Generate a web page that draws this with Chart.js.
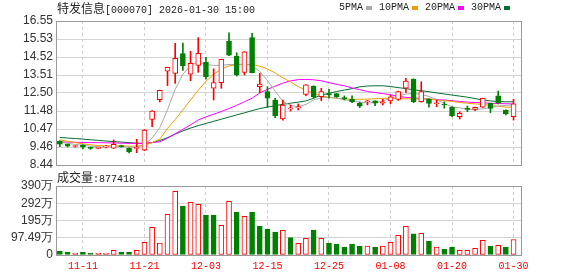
<!DOCTYPE html>
<html>
<head>
<meta charset="utf-8">
<script src="https://cdn.jsdelivr.net/npm/chart.js@4.4.1/dist/chart.umd.min.js"></script>
<style>
  body { margin: 0; background: #fff; }
  #wrap { position: relative; width: 578px; height: 276px; overflow: hidden; }
  canvas { position: absolute; left: 0; top: 0; }
  .mono { font-family: "Liberation Mono", monospace; font-size: 10px; color: #222; }
  .cn { font-family: "Noto Sans CJK SC", sans-serif; font-size: 12px; }
  #title { position: absolute; left: 57px; top: 1px; white-space: nowrap; line-height: 14px; }
  #legend { position: absolute; left: 339px; top: 2px; display: flex; align-items: center; line-height: 12px; }
  #legend i { display: inline-block; width: 6px; height: 4px; margin: 0 7px 0 3px; }
  #volLabel { position: absolute; left: 57px; top: 170px; white-space: nowrap; line-height: 14px; }
</style>
</head>
<body>
<div id="wrap">
  <canvas id="priceChart" width="578" height="276"></canvas>
  <canvas id="volChart" width="578" height="276"></canvas>
  <div id="title" class="mono"><span class="cn">特发信息</span>[000070] 2026-01-30 15:00</div>
  <div id="legend" class="mono">
    <span>5PMA</span><i style="background:#a8a8a8"></i>
    <span>10PMA</span><i style="background:#f0a000"></i>
    <span>20PMA</span><i style="background:#ff00ff"></i>
    <span>30PMA</span><i style="background:#006e32"></i>
  </div>
  <div id="volLabel" class="mono"><span class="cn">成交量</span>:877418</div>
</div>
<script>
// trading days shown on the chart
const dates = ["11-06","11-07","11-10","11-11","11-12","11-13","11-14","11-17","11-18","11-19",
  "11-20","11-21","11-24","11-25","11-26","11-27","11-28","12-01","12-02","12-03",
  "12-04","12-05","12-08","12-09","12-10","12-11","12-12","12-15","12-16","12-17",
  "12-18","12-19","12-22","12-23","12-24","12-25","12-26","12-29","12-30","12-31",
  "01-05","01-06","01-07","01-08","01-09","01-12","01-13","01-14","01-15","01-16",
  "01-19","01-20","01-21","01-22","01-23","01-26","01-27","01-28","01-29","01-30"];
const dateTicks = ["11-11","11-21","12-03","12-15","12-25","01-08","01-20","01-30"];

// daily candles
const opens = [9.79,9.61,9.48,9.57,9.44,9.38,9.45,9.39,9.53,9.38,
  9.38,9.27,11.01,12.12,13.72,13.60,14.71,13.56,14.05,14.22,
  12.76,13.08,15.42,14.58,13.66,15.61,12.85,12.57,12.10,11.03,
  11.60,11.66,12.42,12.89,12.29,12.46,12.46,12.22,12.14,11.91,
  12.00,12.05,11.92,12.05,12.14,12.76,13.28,12.00,12.16,11.89,
  11.85,11.69,11.16,11.59,11.57,11.69,11.91,12.33,11.54,11.16];
const highs = [9.80,9.62,9.54,9.58,9.45,9.44,9.55,9.85,9.56,9.40,
  9.89,10.44,11.50,12.66,13.95,15.29,15.31,14.84,15.61,14.51,
  13.86,14.40,15.89,14.76,14.83,15.86,13.60,12.85,12.20,12.10,
  11.82,11.88,12.97,12.90,12.76,12.70,12.47,12.33,12.34,11.99,
  12.08,12.06,12.14,12.37,12.60,13.32,13.29,13.13,12.17,12.10,
  12.00,11.72,11.44,11.76,11.70,12.20,11.92,12.61,11.55,12.14];
const lows = [9.47,9.46,9.44,9.36,9.32,9.35,9.40,9.37,9.44,9.12,
  9.13,9.25,10.60,11.99,12.91,13.04,13.77,13.19,13.66,13.27,
  12.10,12.76,14.60,13.45,13.51,13.62,12.51,11.69,11.10,10.97,
  11.48,11.54,12.34,12.20,12.06,12.20,12.25,12.10,11.95,11.67,
  11.82,11.78,11.82,11.88,12.08,12.53,11.95,11.98,11.69,11.72,
  11.64,11.16,11.03,11.44,11.50,11.68,11.39,11.88,11.26,10.97];
const closes = [9.61,9.50,9.52,9.44,9.38,9.43,9.50,9.60,9.47,9.17,
  9.43,10.41,11.48,12.65,13.94,14.45,14.04,14.17,14.73,13.41,
  13.08,14.39,14.63,13.51,14.82,13.64,13.00,12.20,11.20,11.82,
  11.63,11.70,12.95,12.29,12.57,12.38,12.28,12.18,12.00,11.76,
  12.05,11.92,12.00,12.28,12.57,13.17,12.00,12.57,11.91,11.92,
  11.82,11.22,11.35,11.57,11.69,12.20,11.63,11.95,11.31,11.88];

// moving averages as drawn
const ma5 = [9.72,9.66,9.60,9.55,9.50,9.47,9.45,9.46,9.47,9.45,
  9.44,9.58,9.95,10.55,11.55,12.70,13.55,14.05,14.25,14.10,
  14.05,14.05,14.10,14.10,14.12,14.05,13.70,13.20,12.60,12.02,
  11.80,11.72,11.85,12.10,12.22,12.26,12.20,12.12,12.06,11.98,
  11.94,11.95,12.05,12.18,12.32,12.44,12.47,12.42,12.30,12.12,
  11.90,11.72,11.66,11.58,11.57,11.60,11.68,11.76,11.80,11.82];
const ma10 = [9.85,9.78,9.70,9.63,9.58,9.53,9.52,9.52,9.51,9.50,
  9.50,9.55,9.70,9.90,10.50,11.00,11.55,12.10,12.65,13.15,
  13.55,13.85,14.02,14.08,14.10,14.10,14.00,13.85,13.62,13.35,
  13.12,12.85,12.65,12.48,12.35,12.25,12.20,12.16,12.14,12.14,
  12.15,12.17,12.19,12.20,12.18,12.17,12.16,12.16,12.15,12.10,
  12.06,12.02,11.96,11.92,11.88,11.85,11.80,11.74,11.70,11.69];
const ma20 = [9.74,9.73,9.72,9.71,9.70,9.70,9.69,9.68,9.67,9.66,
  9.65,9.66,9.70,9.75,9.95,10.20,10.45,10.70,10.98,11.15,
  11.30,11.45,11.62,11.80,12.00,12.20,12.50,12.70,12.88,13.05,
  13.18,13.25,13.26,13.24,13.18,13.08,12.98,12.90,12.78,12.68,
  12.58,12.52,12.46,12.40,12.30,12.25,12.22,12.18,12.14,12.12,
  12.10,12.06,12.02,11.98,11.96,11.94,11.92,11.90,11.89,11.88];
const ma30 = [9.99,9.96,9.93,9.90,9.86,9.83,9.79,9.76,9.73,9.70,
  9.67,9.66,9.70,9.82,9.98,10.18,10.36,10.52,10.66,10.78,
  10.90,11.02,11.14,11.26,11.38,11.50,11.62,11.70,11.78,11.86,
  11.92,11.98,12.05,12.20,12.38,12.48,12.58,12.66,12.74,12.84,
  12.89,12.90,12.90,12.86,12.80,12.74,12.68,12.62,12.57,12.50,
  12.44,12.38,12.32,12.26,12.18,12.10,12.05,12.01,12.00,12.00];

// volume in 万
const volumes = [22.6,17,11,17,11,11,11,26.4,17,17,
  26,71.6,156.5,67.8,230,360,277,298,286.5,226,
  226,168,303,243,218.5,243,164,147,130,139.5,
  98,66,94,141,94,68,62,45,62,51,
  51,45,51,71.6,111,162,119,122.5,79,45,
  34,45,26,26,37.7,83,51,54.6,45,87.74];

// axis labels
const priceTicks = ["8.44","9.46","10.47","11.48","12.50","13.51","14.52","15.53","16.55"];
const volTicks = ["0","97.49万","195万","292万","390万"];
const priceMin = 8.44, priceMax = 16.55, volMax = 389.96;

const UP = "#ff0000", DOWN = "#008000";
const tickIdx = dateTicks.map(d => dates.indexOf(d));

function candleUp(i) { return closes[i] >= opens[i]; }
function volUp(i) { return i === 0 ? candleUp(0) : closes[i] >= closes[i - 1]; }

// grey frame round the plot area
const frame = {
  id: "frame",
  afterDraw(chart) {
    const a = chart.chartArea, c = chart.ctx;
    c.save();
    c.strokeStyle = "#999";
    c.lineWidth = 1;
    c.strokeRect(Math.round(a.left) + 0.5, Math.round(a.top) + 0.5,
      Math.round(a.right - a.left) - 1, Math.round(a.bottom - a.top));
    c.restore();
  }
};

function xScale(showLabels) {
  return {
    type: "linear", min: -0.5, max: 60.1, offset: false,
    afterBuildTicks: s => { s.ticks = tickIdx.map(v => ({ value: v })); },
    afterFit: s => { s.height = showLabels ? 21 : 0; },
    ticks: {
      display: showLabels, autoSkip: false, maxRotation: 0, padding: 5,
      color: "#ff0000", font: { family: "Liberation Mono", size: 10 },
      callback: v => dates[v]
    },
    grid: { color: "#cfcfcf", drawTicks: false, offset: false },
    border: { display: false, dash: [3, 3] }
  };
}

function yScale(min, max, labels, width) {
  return {
    min: min, max: max,
    afterBuildTicks: s => {
      s.ticks = labels.map((t, k) => ({ value: min + k * (max - min) / (labels.length - 1) }));
    },
    afterFit: s => { s.width = width; },
    ticks: {
      autoSkip: false, padding: 3, color: "#333",
      font: { family: "Liberation Sans", size: 12 },
      callback: (v, k) => labels[k]
    },
    grid: { color: "#d4d4d4", drawTicks: false },
    border: { display: false }
  };
}

function lineSet(label, data, color) {
  return {
    type: "line", label: label, order: 3,
    data: data.map((v, i) => ({ x: i, y: v })),
    borderColor: color, borderWidth: 1, pointRadius: 0, tension: 0
  };
}

new Chart(document.getElementById("priceChart"), {
  type: "bar",
  data: {
    datasets: [
      lineSet("5PMA", ma5, "#a8a8a8"),
      lineSet("10PMA", ma10, "#f0a000"),
      lineSet("20PMA", ma20, "#ff00ff"),
      lineSet("30PMA", ma30, "#006e32"),
      {
        label: "wick", order: 1, grouped: false, barThickness: 1,
        data: highs.map((h, i) => ({ x: i, y: [lows[i], h] })),
        backgroundColor: ctx => candleUp(ctx.dataIndex) ? UP : DOWN
      },
      {
        label: "body", order: 0, grouped: false, barThickness: 5, minBarLength: 1,
        data: opens.map((o, i) => ({ x: i, y: [o, closes[i]] })),
        backgroundColor: ctx => candleUp(ctx.dataIndex) ? "#fff" : DOWN,
        borderColor: ctx => candleUp(ctx.dataIndex) ? UP : DOWN,
        borderWidth: 1, borderSkipped: false
      }
    ]
  },
  options: {
    responsive: false, animation: false, devicePixelRatio: 1,
    layout: { padding: { left: 0, right: 56, top: 21, bottom: 111 } },
    plugins: { legend: { display: false }, tooltip: { enabled: false } },
    scales: {
      x: xScale(false),
      y: yScale(priceMin, priceMax, priceTicks, 56)
    }
  },
  plugins: [frame]
});

new Chart(document.getElementById("volChart"), {
  type: "bar",
  data: {
    datasets: [{
      label: "volume", barThickness: 5,
      data: volumes.map((v, i) => ({ x: i, y: v })),
      backgroundColor: ctx => volUp(ctx.dataIndex) ? "#fff" : DOWN,
      borderColor: ctx => volUp(ctx.dataIndex) ? UP : DOWN,
      borderWidth: 1, borderSkipped: false
    }]
  },
  options: {
    responsive: false, animation: false, devicePixelRatio: 1,
    layout: { padding: { left: 0, right: 56, top: 186, bottom: 0 } },
    plugins: { legend: { display: false }, tooltip: { enabled: false } },
    scales: {
      x: xScale(true),
      y: yScale(0, volMax, volTicks, 56)
    }
  },
  plugins: [frame]
});
</script>
</body>
</html>
